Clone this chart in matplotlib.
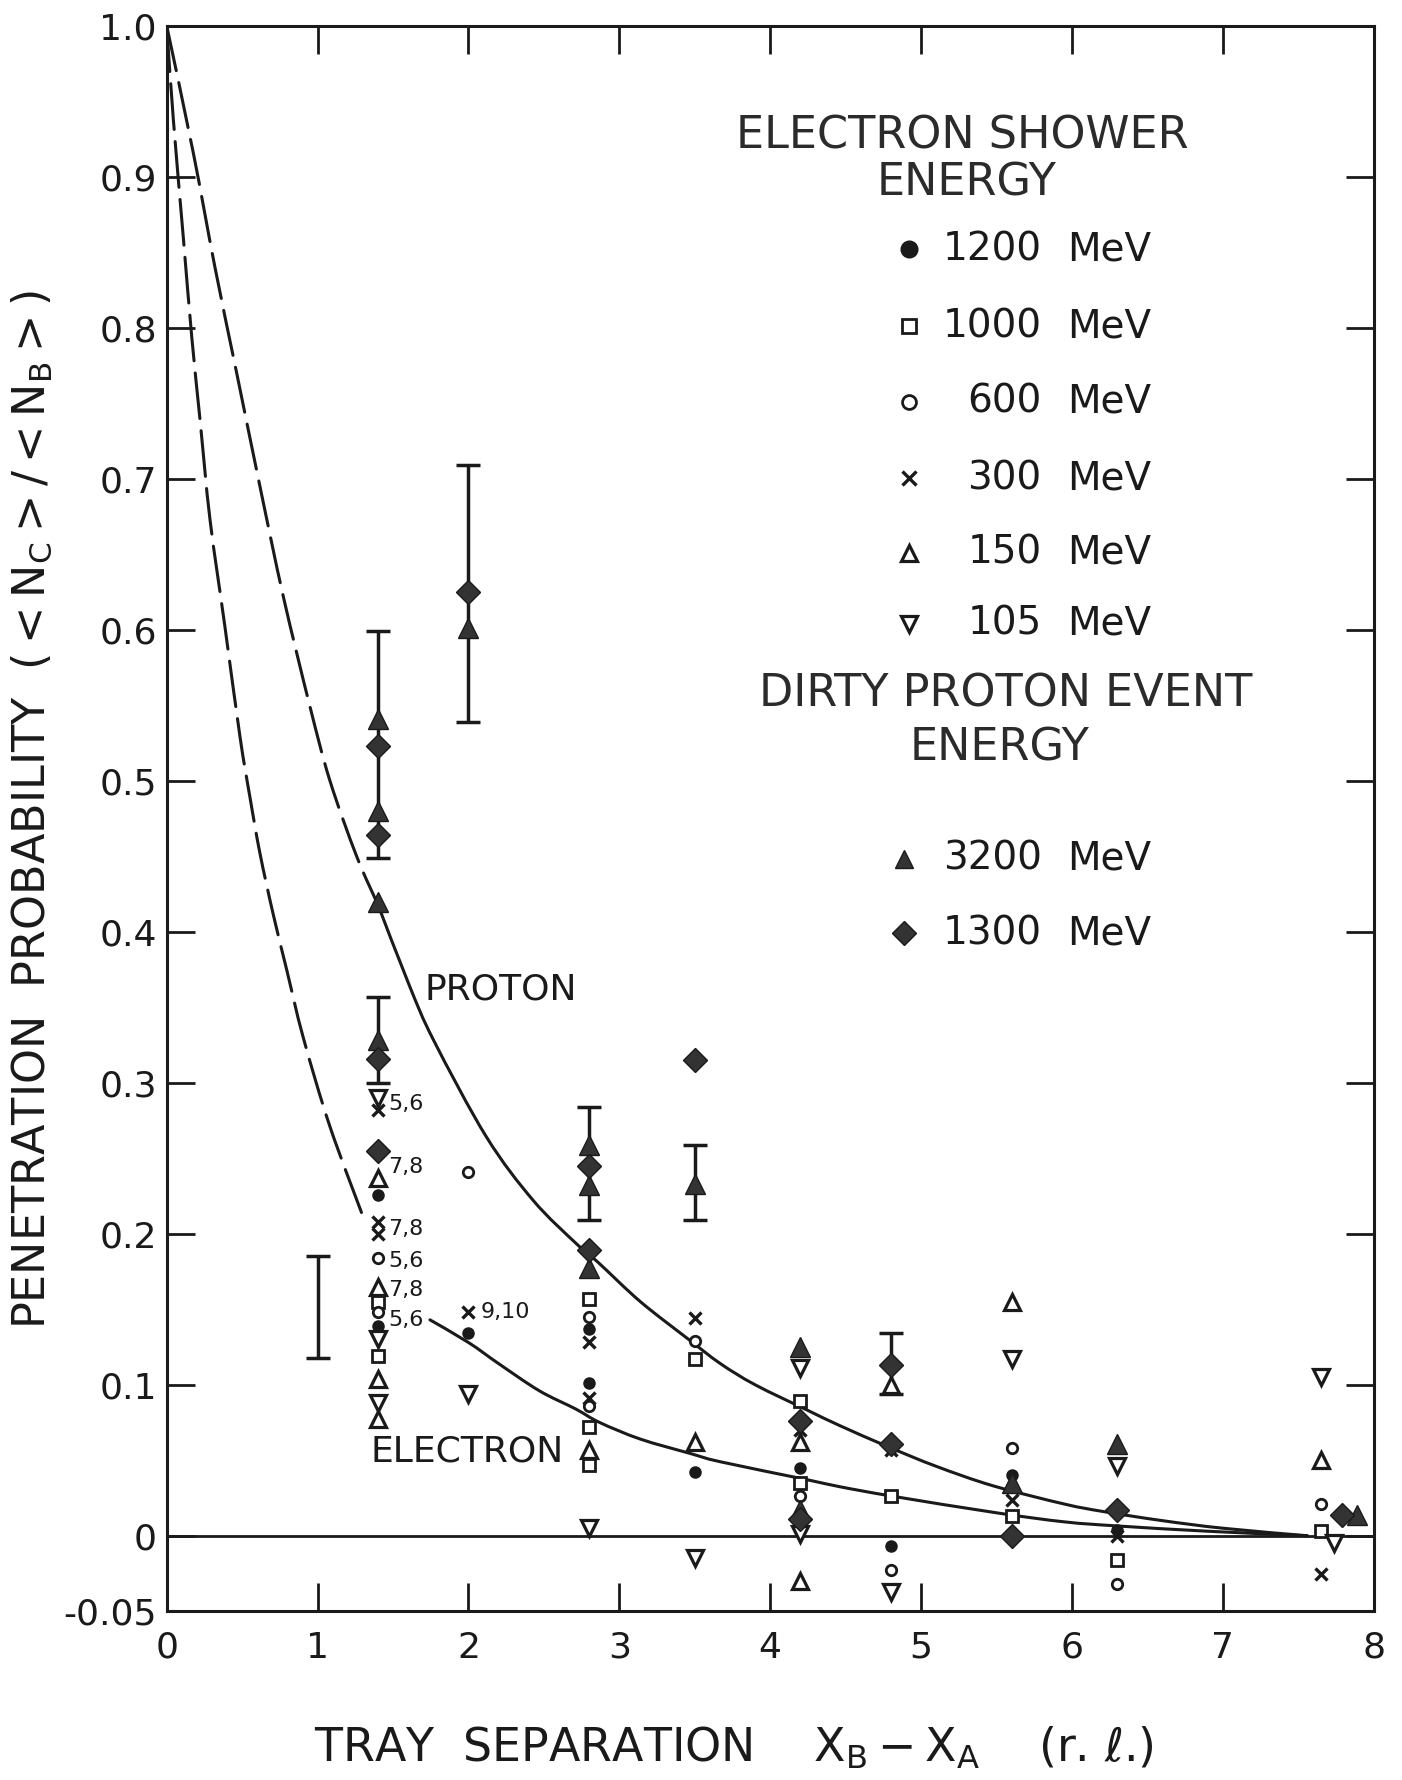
import matplotlib
matplotlib.use('Agg')
import matplotlib.pyplot as plt
from matplotlib.path import Path
from matplotlib.patches import PathPatch

plt.rcParams['font.family'] = ['DejaVu Sans']
plt.rcParams['mathtext.default'] = 'regular'

# Electron shower points (x = tray separation, y = penetration probability)
e1200_x = [1.4, 1.4, 2.0, 2.8, 2.8, 3.5, 4.2, 4.8, 5.6, 6.3]
e1200_y = [0.226, 0.139, 0.134, 0.137, 0.101, 0.042, 0.045, -0.007, 0.040, 0.004]

e1000_x = [1.4, 1.4, 2.8, 2.8, 2.8, 3.5, 4.2, 4.2, 4.8, 5.6, 6.3, 7.65]
e1000_y = [0.155, 0.119, 0.157, 0.072, 0.047, 0.117, 0.089, 0.035, 0.026, 0.013, -0.016, 0.003]

e600_x = [1.4, 1.4, 2.0, 2.8, 2.8, 3.5, 4.2, 4.8, 5.6, 6.3, 7.65]
e600_y = [0.184, 0.148, 0.241, 0.145, 0.086, 0.129, 0.026, -0.023, 0.058, -0.032, 0.021]

e300_x = [1.4, 1.4, 1.4, 2.0, 2.8, 2.8, 3.5, 4.2, 4.8, 5.6, 6.3, 7.65]
e300_y = [0.282, 0.208, 0.200, 0.148, 0.128, 0.091, 0.144, 0.070, 0.057, 0.024, 0.000, -0.025]

e150_x = [1.4, 1.4, 1.4, 1.4, 2.8, 3.5, 4.2, 4.2, 4.8, 5.6, 7.65]
e150_y = [0.237, 0.165, 0.104, 0.077, 0.057, 0.062, 0.062, -0.030, 0.100, 0.155, 0.050]

e105_x = [1.4, 1.4, 1.4, 2.0, 2.8, 3.5, 4.2, 4.2, 4.8, 5.6, 6.3, 7.65, 7.74]
e105_y = [0.290, 0.130, 0.088, 0.094, 0.005, -0.015, 0.111, 0.001, -0.037, 0.117, 0.046, 0.105, -0.005]

# Dirty proton events
p3200_x = [1.4, 1.4, 1.4, 1.4, 2.0, 2.8, 2.8, 2.8, 3.5, 4.2, 4.2, 5.6, 6.3, 7.89]
p3200_y = [0.541, 0.480, 0.420, 0.328, 0.601, 0.259, 0.232, 0.177, 0.233, 0.125, 0.017, 0.035, 0.061, 0.014]

p1300_x = [1.4, 1.4, 1.4, 1.4, 2.0, 2.8, 2.8, 3.5, 4.2, 4.2, 4.8, 4.8, 5.6, 6.3, 7.79]
p1300_y = [0.523, 0.464, 0.316, 0.255, 0.625, 0.245, 0.189, 0.315, 0.076, 0.011, 0.113, 0.061, 0.000, 0.017, 0.014]

# Error bars (low / high ends)
err_x = [1.0, 1.4, 1.4, 2.0, 2.8, 3.5, 4.8]
err_lo = [0.118, 0.449, 0.300, 0.539, 0.209, 0.209, 0.094]
err_hi = [0.185, 0.599, 0.357, 0.709, 0.284, 0.259, 0.134]

# Curves
proton_dash_x = [0.0, 0.176, 0.32, 0.464, 0.618, 0.773, 0.95, 1.082, 1.259, 1.40]
proton_dash_y = [1.0, 0.916, 0.840, 0.770, 0.695, 0.622, 0.549, 0.500, 0.450, 0.418]
proton_x = [1.40, 1.61, 1.77, 2.12, 2.43, 2.72, 2.86, 3.14, 3.46, 3.67, 3.90, 4.25, 4.46, 4.78,
            5.10, 5.48, 5.95, 6.21, 6.60, 7.00, 7.56]
proton_y = [0.418, 0.364, 0.328, 0.264, 0.222, 0.193, 0.181, 0.155, 0.130, 0.114, 0.100, 0.083,
            0.073, 0.059, 0.046, 0.033, 0.021, 0.016, 0.010, 0.005, 0.000]

electron_dash_x = [0.0, 0.044, 0.11, 0.166, 0.221, 0.287, 0.386, 0.486, 0.552, 0.618, 0.705,
                   0.795, 0.905, 1.082, 1.314]
electron_dash_y = [1.0, 0.938, 0.860, 0.794, 0.739, 0.673, 0.602, 0.529, 0.489, 0.452, 0.412,
                   0.375, 0.330, 0.271, 0.208]
electron_x = [1.745, 2.0, 2.2, 2.47, 2.71, 2.87, 3.14, 3.47, 3.67, 4.25, 4.46, 4.81, 5.5, 5.95,
              6.3, 6.9, 7.56]
electron_y = [0.143, 0.128, 0.114, 0.096, 0.084, 0.075, 0.064, 0.0545, 0.049, 0.037, 0.0325,
              0.0262, 0.0152, 0.0092, 0.0065, 0.003, 0.0]

# Multiplicity labels next to points
note_text = ['5,6', '7,8', '7,8', '5,6', '7,8', '5,6', '9,10']
note_x = [1.47, 1.47, 1.47, 1.47, 1.47, 1.47, 2.08]
note_y = [0.286, 0.244, 0.203, 0.182, 0.163, 0.143, 0.148]

xticks = [0, 1, 2, 3, 4, 5, 6, 7, 8]
yticks = [-0.05, 0, 0.1, 0.2, 0.3, 0.4, 0.5, 0.6, 0.7, 0.8, 0.9, 1.0]
ytick_labels = ['-0.05', '0', '0.1', '0.2', '0.3', '0.4', '0.5', '0.6', '0.7', '0.8', '0.9', '1.0']

# Legend entries
elec_labels = ['1200', '1000', '600', '300', '150', '105']
elec_leg_y = [0.852, 0.801, 0.751, 0.7005, 0.651, 0.604]
prot_labels = ['3200', '1300']
prot_leg_y = [0.4485, 0.399]

INK = '#1a1a1a'
FILL = '#333333'

styles = {
    '1200': dict(marker='o', ms=8, mfc=INK, mec=INK, mew=1),
    '1000': dict(marker='s', ms=8, mfc='white', mec=INK, mew=2),
    '600': dict(marker='o', ms=7.5, mfc='white', mec=INK, mew=2),
    '300': dict(marker='x', ms=8, mec=INK, mew=2.4),
    '150': dict(marker='^', ms=12, mfc='white', mec=INK, mew=2.3),
    '105': dict(marker='v', ms=12, mfc='white', mec=INK, mew=2.3),
    '3200': dict(marker='^', ms=15, mfc=FILL, mec=INK, mew=1),
    '1300': dict(marker='D', ms=12, mfc=FILL, mec=INK, mew=1),
}


def smooth_path(xs, ys):
    # Catmull-Rom through the traced points, drawn as cubic Bezier segments
    pts = list(zip(xs, ys))
    verts = [pts[0]]
    codes = [Path.MOVETO]
    for i in range(len(pts) - 1):
        p0 = pts[i - 1] if i > 0 else pts[i]
        p1, p2 = pts[i], pts[i + 1]
        p3 = pts[i + 2] if i + 2 < len(pts) else pts[i + 1]
        c1 = (p1[0] + (p2[0] - p0[0]) / 6, p1[1] + (p2[1] - p0[1]) / 6)
        c2 = (p2[0] - (p3[0] - p1[0]) / 6, p2[1] - (p3[1] - p1[1]) / 6)
        verts += [c1, c2, p2]
        codes += [Path.CURVE4] * 3
    return Path(verts, codes)


fig = plt.figure(figsize=(14.02, 17.80), dpi=100)
ax = fig.add_axes([0.1189, 0.0948, 0.8609, 0.8907])
ax.set_xlim(0, 8)
ax.set_ylim(-0.05, 1.0)

# zero line and curves
ax.axhline(0, color=INK, lw=2, zorder=1)
for xs, ys, ls in [(proton_dash_x, proton_dash_y, (0, (15, 4))),
                   (proton_x, proton_y, '-'),
                   (electron_dash_x, electron_dash_y, (0, (15, 4))),
                   (electron_x, electron_y, '-')]:
    ax.add_patch(PathPatch(smooth_path(xs, ys), fill=False, edgecolor=INK, lw=2.2,
                           linestyle=ls, zorder=2, capstyle='round'))

# error bars
mid = [(lo + hi) / 2 for lo, hi in zip(err_lo, err_hi)]
half = [(hi - lo) / 2 for lo, hi in zip(err_lo, err_hi)]
ax.errorbar(err_x, mid, yerr=half, fmt='none', ecolor=INK, elinewidth=2.5,
            capsize=8.5, capthick=2.5, zorder=3)

series = [('1200', e1200_x, e1200_y), ('1000', e1000_x, e1000_y), ('600', e600_x, e600_y),
          ('300', e300_x, e300_y), ('150', e150_x, e150_y), ('105', e105_x, e105_y),
          ('3200', p3200_x, p3200_y), ('1300', p1300_x, p1300_y)]
for key, xs, ys in series:
    ax.plot(xs, ys, ls='none', zorder=4, **styles[key])

for t, x, y in zip(note_text, note_x, note_y):
    ax.text(x, y, t, fontsize=16, color=INK, ha='left', va='center', zorder=5)

ax.text(1.707, 0.362, 'PROTON', fontsize=26, color=INK, ha='left', va='center')
ax.text(1.353, 0.0557, 'ELECTRON', fontsize=26, color=INK, ha='left', va='center')

# legend block drawn as text
hdr = dict(fontsize=32, color='#2b2b2b', ha='center', va='center')
ax.text(5.275, 0.927, 'ELECTRON SHOWER', **hdr)
ax.text(5.30, 0.896, 'ENERGY', **hdr)
ax.text(5.56, 0.5576, 'DIRTY PROTON EVENT', **hdr)
ax.text(5.52, 0.522, 'ENERGY', **hdr)

leg_size = {'1200': 12, '1000': 10, '600': 10, '300': 10, '150': 11, '105': 11, '3200': 13, '1300': 12}
for lab, y in zip(elec_labels + prot_labels, elec_leg_y + prot_leg_y):
    st = dict(styles[lab])
    st['ms'] = leg_size[lab]
    mx = 4.89 if lab in prot_labels else 4.92
    ax.plot([mx], [y], ls='none', clip_on=False, **st)
    ax.text(5.80, y, lab, fontsize=28, color=INK, ha='right', va='center')
    ax.text(5.97, y, 'MeV', fontsize=28, color=INK, ha='left', va='center')

# axes styling
for sp in ax.spines.values():
    sp.set_linewidth(2.2)
    sp.set_color(INK)
ax.set_xticks(xticks)
ax.set_xticklabels([str(v) for v in xticks])
ax.set_yticks(yticks)
ax.set_yticklabels(ytick_labels)
ax.tick_params(axis='both', direction='in', length=20, width=2, colors=INK,
               labelsize=26, top=True, right=True)
ax.tick_params(axis='x', pad=14)
ax.tick_params(axis='y', pad=7)

ax.text(0.47, -0.072, r'TRAY  SEPARATION    $X_B - X_A$    (r. $\ell$.)', transform=ax.transAxes,
        fontsize=33, color=INK, ha='center', va='top')
ax.text(-0.112, 0.506, r'PENETRATION  PROBABILITY  $( < N_C > / < N_B > )$',
        transform=ax.transAxes, fontsize=32, color=INK, rotation=90, ha='center', va='center')

fig.savefig('out.png', dpi=100)
